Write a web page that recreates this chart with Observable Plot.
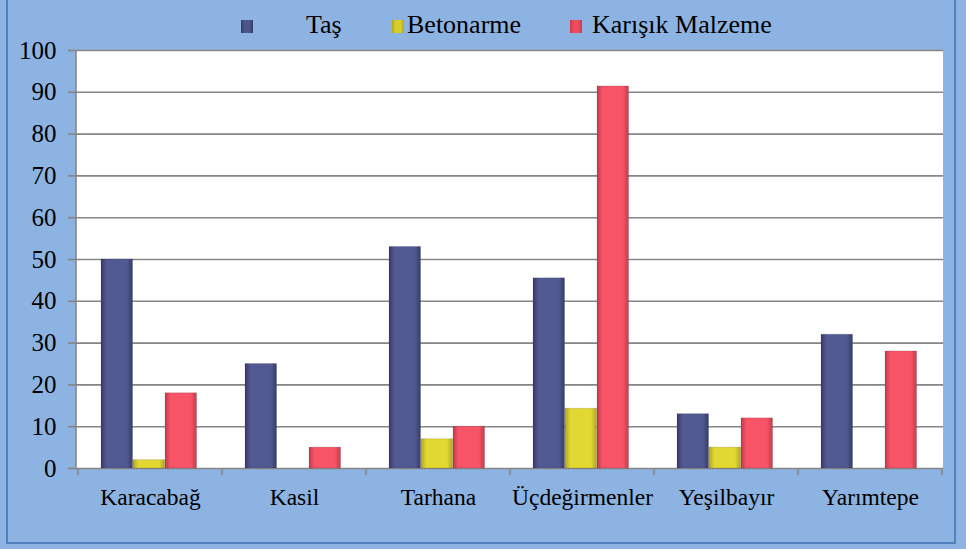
<!DOCTYPE html>
<html>
<head>
<meta charset="utf-8">
<script src="https://cdn.jsdelivr.net/npm/d3@7"></script>
<script src="https://cdn.jsdelivr.net/npm/@observablehq/plot@0.6"></script>
<style>
  html, body { margin: 0; padding: 0; background: #8DB3E2; }
  #wrap { position: relative; width: 966px; height: 549px; overflow: hidden; background: #8DB3E2; font-family: "Liberation Serif", "Times New Roman", serif; }
  #frameBox { position: absolute; left: 6px; top: -4px; width: 950px; height: 548px; border: 2px solid #4F81BD; box-sizing: border-box; }
  #plotbg { position: absolute; left: 76px; top: 50px; width: 867px; height: 418px; background: #fff; }
  #chart { position: absolute; left: 0; top: 0; }
  #chart svg text { font-family: "Liberation Serif", "Times New Roman", serif; }
  .leg { position: absolute; top: 10px; font-size: 26px; line-height: 30px; color: #000; white-space: nowrap; font-family: "Liberation Serif", serif; }
  .sw { position: absolute; top: 20px; width: 12px; height: 13px; }
</style>
</head>
<body>
<div id="wrap">
  <div id="frameBox"></div>
  <div id="plotbg"></div>
  <div id="chart"></div>
  <div id="legend"></div>
</div>
<script>
const categories = ["Karacabağ", "Kasil", "Tarhana", "Üçdeğirmenler", "Yeşilbayır", "Yarımtepe"];
const series = ["Taş", "Betonarme", "Karışık Malzeme"];
const tasValues = [50, 25, 53, 45.5, 13, 32];
const betonarmeValues = [2, 0, 7, 14.3, 5, 0];
const karisikValues = [18, 5, 10, 91.4, 12, 28];
const yTicks = [0, 10, 20, 30, 40, 50, 60, 70, 80, 90, 100];

const seriesValues = [tasValues, betonarmeValues, karisikValues];
const gradIds = ["gTas", "gBet", "gKar"];
const gradStops = [
  ["#363B66", "#525A94", "#363B66"],
  ["#B3A81C", "#E2D834", "#B3A81C"],
  ["#C43A48", "#F85468", "#C43A48"]
];
const legendColors = ["#4E5589", "#D8CE2A", "#EE4C5E"];

// data table
const table = [];
series.forEach((s, si) => categories.forEach((c, ci) => table.push({category: c, series: s, si, value: seriesValues[si][ci]})));

const W = 966, H = 549, mL = 76, mR = 23, mT = 50, mB = 81;
const step = (W - mL - mR) / categories.length; // band width
const barW = 32, groupLeft = 23;

const marks = [
  Plot.gridY(yTicks, {stroke: "#868686", strokeOpacity: 1, strokeWidth: 1.6}),
  Plot.axisY(yTicks, {tickSize: 8, tickPadding: 12, fontSize: 25, stroke: "#868686", strokeWidth: 1.6, fill: "#000", label: null}),
  Plot.axisX({tickSize: 0, tickPadding: 20, fontSize: 23.5, fill: "#000", label: null})
];
series.forEach((s, si) => {
  marks.push(Plot.barY(table.filter(d => d.si === si && d.value > 0), {
    x: "category", y: "value",
    fill: `url(#${gradIds[si]})`,
    insetLeft: groupLeft + si * barW,
    insetRight: step - groupLeft - (si + 1) * barW,
    stroke: "rgba(0,0,0,0.12)", strokeWidth: 1
  }));
});

const plot = Plot.plot({
  width: W, height: H,
  marginLeft: mL, marginRight: mR, marginTop: mT, marginBottom: mB,
  style: {background: "transparent", fontFamily: "'Liberation Serif', serif", color: "#000", overflow: "visible"},
  x: {domain: categories, padding: 0, label: null},
  y: {domain: [0, 100], label: null},
  marks
});

// gradients
const svg = d3.select(plot);
const defs = svg.insert("defs", ":first-child");
gradIds.forEach((id, i) => {
  const g = defs.append("linearGradient").attr("id", id).attr("x1", "0").attr("x2", "1").attr("y1", "0").attr("y2", "0");
  g.append("stop").attr("offset", "0%").attr("stop-color", gradStops[i][0]);
  g.append("stop").attr("offset", "18%").attr("stop-color", gradStops[i][1]);
  g.append("stop").attr("offset", "82%").attr("stop-color", gradStops[i][1]);
  g.append("stop").attr("offset", "100%").attr("stop-color", gradStops[i][2]);
});

// boundary ticks on the category axis, from the x scale
const xs = plot.scale("x");
const bounds = categories.map(c => xs.apply(c)).concat([xs.apply(categories[categories.length - 1]) + xs.bandwidth]);
const y0 = plot.scale("y").apply(0);
const tg = svg.append("g");
bounds.forEach(bx => tg.append("line").attr("x1", bx).attr("x2", bx).attr("y1", y0).attr("y2", y0 + 7).attr("stroke", "#868686").attr("stroke-width", 1.6));
// left axis line
tg.append("line").attr("x1", mL).attr("x2", mL).attr("y1", plot.scale("y").apply(100)).attr("y2", y0).attr("stroke", "#868686").attr("stroke-width", 1.6);

document.getElementById("chart").appendChild(plot);

// legend
const legend = document.getElementById("legend");
const swX = [241, 392, 570];
const txX = [306, 407, 592];
series.forEach((s, i) => {
  const sw = document.createElement("div");
  sw.className = "sw";
  sw.style.left = swX[i] + "px";
  sw.style.background = `linear-gradient(to right, ${gradStops[i][0]}, ${legendColors[i]} 30%, ${legendColors[i]} 70%, ${gradStops[i][2]})`;
  legend.appendChild(sw);
  const t = document.createElement("div");
  t.className = "leg";
  t.style.left = txX[i] + "px";
  t.textContent = s;
  legend.appendChild(t);
});
</script>
</body>
</html>
